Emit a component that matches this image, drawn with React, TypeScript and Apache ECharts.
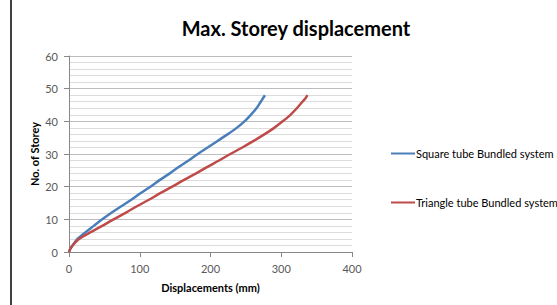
import React, { useEffect, useRef } from "react";
import * as echarts from "echarts";

const storeys = [0, 1, 2, 4, 6, 8, 10, 12, 14, 16, 18, 20, 22, 24, 26, 28, 30, 32, 34, 36, 38, 40, 42, 44, 46, 47, 48];
const squareDisp = [0, 2, 5, 12, 23, 35, 47, 60, 74, 88, 101, 115, 128, 142, 155, 169, 182, 196, 210, 224, 237, 248, 257, 265, 271, 274, 277];
const triangleDisp = [0, 2, 5, 14, 30, 47, 63, 80, 96, 113, 129, 146, 162, 179, 195, 212, 228, 245, 261, 276, 290, 302, 313, 322, 330, 334, 337];
const seriesNames = ["Square tube Bundled system", "Triangle tube Bundled system"];

export default function App() {
  const ref = useRef<HTMLDivElement>(null);
  useEffect(() => {
    if (!ref.current) return;
    const chart = echarts.init(ref.current, null, { renderer: "svg" });
    const font = "Lato, 'Open Sans', sans-serif";
    chart.setOption({
      animation: false,
      backgroundColor: "#ffffff",
      title: {
        text: "Max. Storey displacement",
        left: 291,
        textAlign: "center",
        top: 13,
        textStyle: { fontFamily: font, fontSize: 20, fontWeight: "bold", color: "#000" },
      },
      legend: {
        orient: "vertical",
        left: 386,
        top: 143,
        itemGap: 38,
        itemWidth: 24,
        itemHeight: 2,
        icon: "rect",
        textStyle: { fontFamily: font, fontSize: 11, color: "#000", padding: [0, 0, 0, -4] },
        data: seriesNames,
      },
      grid: { left: 69, right: 205, top: 56, bottom: 53, containLabel: false },
      xAxis: {
        type: "value",
        min: 0,
        max: 400,
        interval: 100,
        name: "Displacements (mm)",
        nameLocation: "middle",
        nameGap: 30,
        nameTextStyle: { fontFamily: font, fontSize: 11, fontWeight: "bold", color: "#000" },
        axisLine: { show: true, lineStyle: { color: "#888", width: 1 } },
        axisTick: { show: true, length: 5, lineStyle: { color: "#888" } },
        axisLabel: { fontFamily: font, fontSize: 11, color: "#595959", margin: 11 },
        splitLine: { show: false },
      },
      yAxis: {
        type: "value",
        min: 0,
        max: 60,
        interval: 10,
        name: "No. of Storey",
        nameLocation: "middle",
        nameGap: 29,
        nameMoveOverlap: false,
        nameRotate: 90,
        nameTextStyle: { fontFamily: font, fontSize: 11, fontWeight: "bold", color: "#000" },
        axisLine: { show: true, lineStyle: { color: "#888", width: 1 } },
        axisTick: { show: true, length: 5, lineStyle: { color: "#888" } },
        axisLabel: { fontFamily: font, fontSize: 11, color: "#595959", margin: 11 },
        splitLine: { show: true, lineStyle: { color: "#bdbdbd", width: 1 } },
        minorTick: { show: false, splitNumber: 5 },
        minorSplitLine: { show: true, lineStyle: { color: "#dcdcdc", width: 1 } },
      },
      series: [
        {
          name: seriesNames[0],
          type: "line",
          data: squareDisp.map((d, i) => [d, storeys[i]]),
          showSymbol: false,
          smooth: 0.3,
          lineStyle: { color: "#4a7ebb", width: 2.5 },
          itemStyle: { color: "#4a7ebb" },
        },
        {
          name: seriesNames[1],
          type: "line",
          data: triangleDisp.map((d, i) => [d, storeys[i]]),
          showSymbol: false,
          smooth: 0.3,
          lineStyle: { color: "#be4b48", width: 2.5 },
          itemStyle: { color: "#be4b48" },
        },
      ],
      graphic: [
        {
          type: "line",
          shape: { x1: 11, y1: 0, x2: 11, y2: 305 },
          style: { stroke: "#404040", lineWidth: 2 },
        },
      ],
    });
    return () => chart.dispose();
  }, []);
  return (
    <div
      ref={ref}
      style={{ position: "absolute", left: 0, top: 0, width: 557, height: 305, overflow: "hidden" }}
    />
  );
}
